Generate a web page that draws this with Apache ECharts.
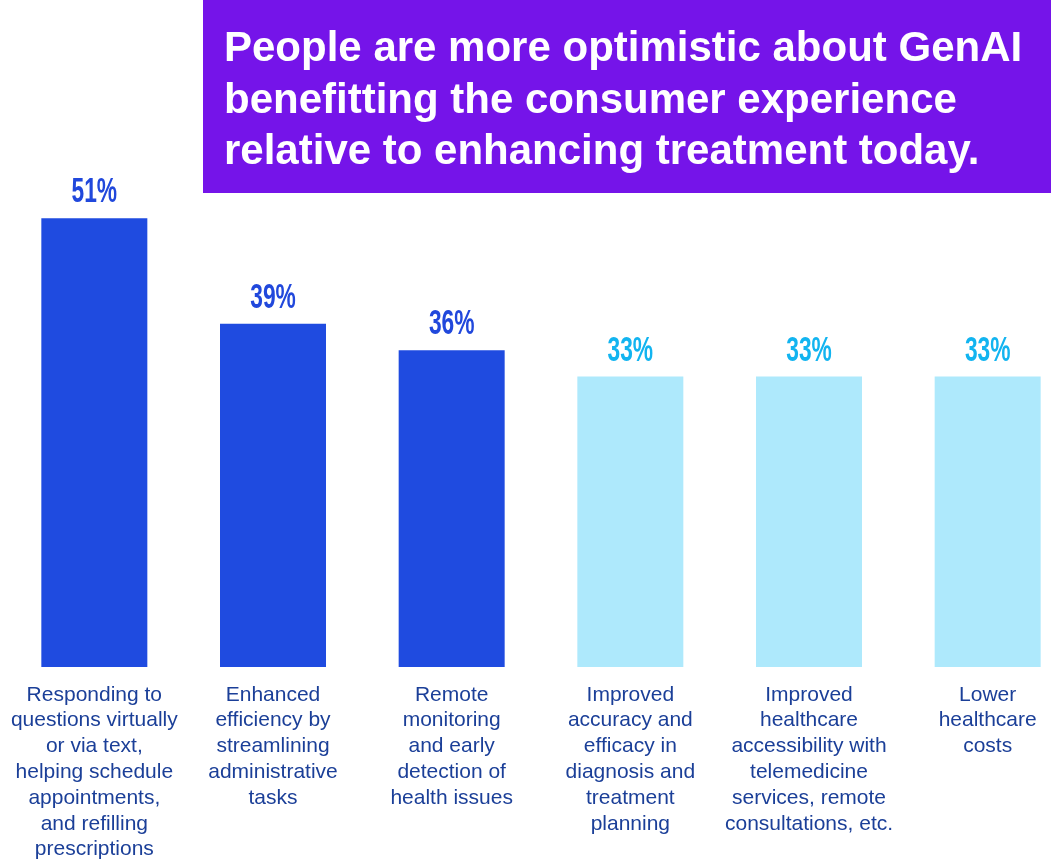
<!DOCTYPE html>
<html>
<head>
<meta charset="utf-8">
<script src="https://cdn.jsdelivr.net/npm/echarts@6/dist/echarts.min.js"></script>
<style>
html,body{margin:0;padding:0;background:#fff;}
#c{width:1051px;height:864px;}
</style>
</head>
<body>
<div id="c"></div>
<script>
const titleLines = [
  "People are more optimistic about GenAI",
  "benefitting the consumer experience",
  "relative to enhancing treatment today."
];
const categories = [
  "Responding to\nquestions virtually\nor via text,\nhelping schedule\nappointments,\nand refilling\nprescriptions",
  "Enhanced\nefficiency by\nstreamlining\nadministrative\ntasks",
  "Remote\nmonitoring\nand early\ndetection of\nhealth issues",
  "Improved\naccuracy and\nefficacy in\ndiagnosis and\ntreatment\nplanning",
  "Improved\nhealthcare\naccessibility with\ntelemedicine\nservices, remote\nconsultations, etc.",
  "Lower\nhealthcare\ncosts"
];
const values = [51, 39, 36, 33, 33, 33];
const group = ["consumer", "consumer", "consumer", "treatment", "treatment", "treatment"];

const barColors = {consumer: "#1F4BE0", treatment: "#AEE9FC"};
const labelColors = {consumer: "#2148DC", treatment: "#12B4F0"};

const chart = echarts.init(document.getElementById('c'));
chart.setOption({
  backgroundColor: "#ffffff",
  animation: false,
  grid: {left: 5, right: -26, top: 139, height: 528, containLabel: false, outerBoundsMode: "none"},
  xAxis: {
    type: "category",
    data: categories,
    axisLine: {show: false},
    axisTick: {show: false},
    axisLabel: {
      interval: 0,
      margin: 15,
      color: "#1B3F98",
      fontFamily: "Liberation Sans, Arial, sans-serif",
      fontSize: 21,
      lineHeight: 25.8,
      align: "center",
      verticalAlign: "top"
    }
  },
  yAxis: {
    type: "value",
    min: 0,
    max: 60,
    show: false,
    splitLine: {show: false}
  },
  series: [{
    type: "bar",
    barWidth: 106,
    data: values.map((v, i) => ({
      value: v,
      itemStyle: {color: barColors[group[i]]}
    }))
  }, {
    type: "custom",
    data: values.map((v, i) => [i, v]),
    renderItem: function (params, api) {
      const idx = api.value(0);
      const v = api.value(1);
      const p = api.coord([idx, v]);
      return {
        type: "text",
        x: p[0],
        y: p[1] - 8,
        scaleX: 0.65,
        style: {
          text: v + "%",
          fill: labelColors[group[idx]],
          font: "bold 35px 'Liberation Sans', Arial, sans-serif",
          align: "center",
          verticalAlign: "bottom"
        }
      };
    }
  }],
  graphic: [
    {type: "rect", left: 203, top: 0, shape: {width: 848, height: 193}, style: {fill: "#7514E9"}, z: 10},
    {type: "text", left: 224, top: 24, z: 11,
     style: {text: titleLines.join("\n"), fill: "#ffffff", font: "bold 42px 'Liberation Sans', Arial, sans-serif", lineHeight: 51.5}}
  ]
});
</script>
</body>
</html>
